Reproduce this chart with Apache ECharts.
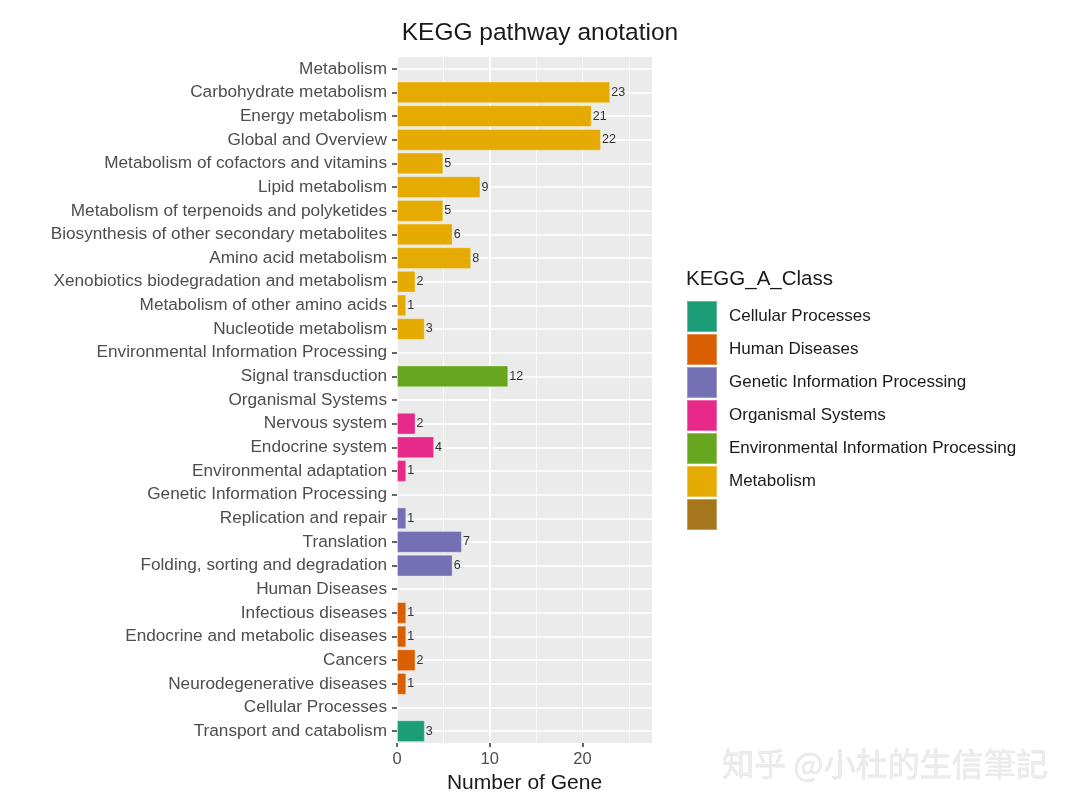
<!DOCTYPE html>
<html>
<head>
<meta charset="utf-8">
<title>KEGG pathway anotation</title>
<script src="https://cdn.jsdelivr.net/npm/echarts@6/dist/echarts.min.js"></script>
<style>
  html, body { margin: 0; padding: 0; background: #fff; }
  #chart { width: 1074px; height: 810px; }
</style>
</head>
<body>
<div id="chart"></div>
<script>
// rows from top to bottom
const categories = [
  'Metabolism', 'Carbohydrate metabolism', 'Energy metabolism', 'Global and Overview',
  'Metabolism of cofactors and vitamins', 'Lipid metabolism', 'Metabolism of terpenoids and polyketides',
  'Biosynthesis of other secondary metabolites', 'Amino acid metabolism',
  'Xenobiotics biodegradation and metabolism', 'Metabolism of other amino acids', 'Nucleotide metabolism',
  'Environmental Information Processing', 'Signal transduction',
  'Organismal Systems', 'Nervous system', 'Endocrine system', 'Environmental adaptation',
  'Genetic Information Processing', 'Replication and repair', 'Translation', 'Folding, sorting and degradation',
  'Human Diseases', 'Infectious diseases', 'Endocrine and metabolic diseases', 'Cancers', 'Neurodegenerative diseases',
  'Cellular Processes', 'Transport and catabolism'
]
const geneCounts = [
  null, 23, 21, 22, 5, 9, 5, 6, 8, 2, 1, 3,
  null, 12,
  null, 2, 4, 1,
  null, 1, 7, 6,
  null, 1, 1, 2, 1,
  null, 3
]
const rowClass = [
  'Metabolism', 'Metabolism', 'Metabolism', 'Metabolism', 'Metabolism', 'Metabolism', 'Metabolism',
  'Metabolism', 'Metabolism', 'Metabolism', 'Metabolism', 'Metabolism',
  'Environmental Information Processing', 'Environmental Information Processing',
  'Organismal Systems', 'Organismal Systems', 'Organismal Systems', 'Organismal Systems',
  'Genetic Information Processing', 'Genetic Information Processing', 'Genetic Information Processing', 'Genetic Information Processing',
  'Human Diseases', 'Human Diseases', 'Human Diseases', 'Human Diseases', 'Human Diseases',
  'Cellular Processes', 'Cellular Processes'
]
// legend order, last entry has no label
const classNames = [
  'Cellular Processes', 'Human Diseases', 'Genetic Information Processing',
  'Organismal Systems', 'Environmental Information Processing', 'Metabolism', ' '
]
const classColors = ['#1B9E77', '#D95F02', '#7570B3', '#E7298A', '#66A61E', '#E6AB02', '#A6761D']
const xTicks = [0, 10, 20]

const chart = echarts.init(document.getElementById('chart'))

const series = classNames.map((cls, k) => {
  const s = {
    name: cls,
    type: 'bar',
    stack: 'total',
    barCategoryGap: '8%',
    itemStyle: { color: classColors[k], borderColor: 'rgba(255,255,255,0.3)', borderWidth: 1 },
    label: {
      show: true,
      position: 'right',
      distance: 1,
      fontSize: 12.5,
      color: '#333',
      fontFamily: 'Liberation Sans'
    },
    data: categories.map((c, i) => (rowClass[i] === cls && geneCounts[i] != null) ? geneCounts[i] : '-')
  }
  if (k === 0) {
    // white major grid lines through the middle of each row
    s.markLine = {
      silent: true,
      z: 1,
      symbol: 'none',
      label: { show: false },
      lineStyle: { color: '#fff', width: 1.5, type: 'solid' },
      data: categories.map(c => ({ yAxis: c }))
    }
  }
  return s
})

const option = {
  animation: false,
  textStyle: { fontFamily: 'Liberation Sans' },
  title: {
    text: 'KEGG pathway anotation',
    left: 535,
    textAlign: 'center',
    top: 16,
    textStyle: { fontSize: 24.5, fontWeight: 'normal', color: '#1a1a1a', fontFamily: 'Liberation Sans' }
  },
  grid: {
    left: 397,
    right: 422,
    top: 57,
    bottom: 67,
    show: true,
    borderWidth: 0,
    backgroundColor: '#EBEBEB'
  },
  legend: {
    data: classNames,
    orient: 'vertical',
    left: 686,
    top: 300,
    padding: 0,
    itemWidth: 30,
    itemHeight: 31,
    itemGap: 0,
    icon: 'rect',
    selectedMode: false,
    textStyle: { fontSize: 17, color: '#1a1a1a', fontFamily: 'Liberation Sans', padding: [0, 0, 0, 7] }
  },
  graphic: [
    {
      type: 'text',
      left: 686,
      top: 269,
      style: { text: 'KEGG_A_Class', fontSize: 20.5, fill: '#1a1a1a', fontFamily: 'Liberation Sans' }
    },
    {
      type: 'text',
      left: 722,
      top: 748,
      style: {
        text: '知乎 @小杜的生信筆記',
        fontSize: 32,
        fill: '#ececec',
        stroke: '#d2d2d2',
        lineWidth: 0.4,
        fontFamily: 'Noto Sans CJK TC'
      }
    }
  ],
  xAxis: [
    {
      type: 'value',
      min: 0,
      max: 27.5,
      interval: 10,
      name: 'Number of Gene',
      nameLocation: 'middle',
      nameGap: 28,
      nameTextStyle: { fontSize: 21, color: '#1a1a1a', fontFamily: 'Liberation Sans' },
      axisLine: { show: false },
      axisTick: { show: true, length: 4, lineStyle: { color: '#333', width: 1.5 }, customValues: xTicks },
      axisLabel: { fontSize: 16.5, color: '#4D4D4D', margin: 8, customValues: xTicks, fontFamily: 'Liberation Sans' },
      splitLine: { show: true, showMaxLine: false, lineStyle: { color: '#fff', width: 1.5 } }
    },
    {
      // minor grid lines only
      type: 'value',
      position: 'top',
      min: 0,
      max: 27.5,
      interval: 5,
      axisLine: { show: false },
      axisTick: { show: false },
      axisLabel: { show: false },
      splitLine: { show: true, showMaxLine: false, lineStyle: { color: '#fff', width: 0.7 } }
    }
  ],
  yAxis: {
    type: 'category',
    inverse: true,
    data: categories,
    axisLine: { show: false },
    axisTick: { show: true, alignWithLabel: true, length: 5, lineStyle: { color: '#333', width: 1.5 } },
    axisLabel: { fontSize: 17.2, color: '#4D4D4D', margin: 10, interval: 0, fontFamily: 'Liberation Sans' },
    splitLine: { show: false }
  },
  series: series
}

chart.setOption(option)
</script>
</body>
</html>
